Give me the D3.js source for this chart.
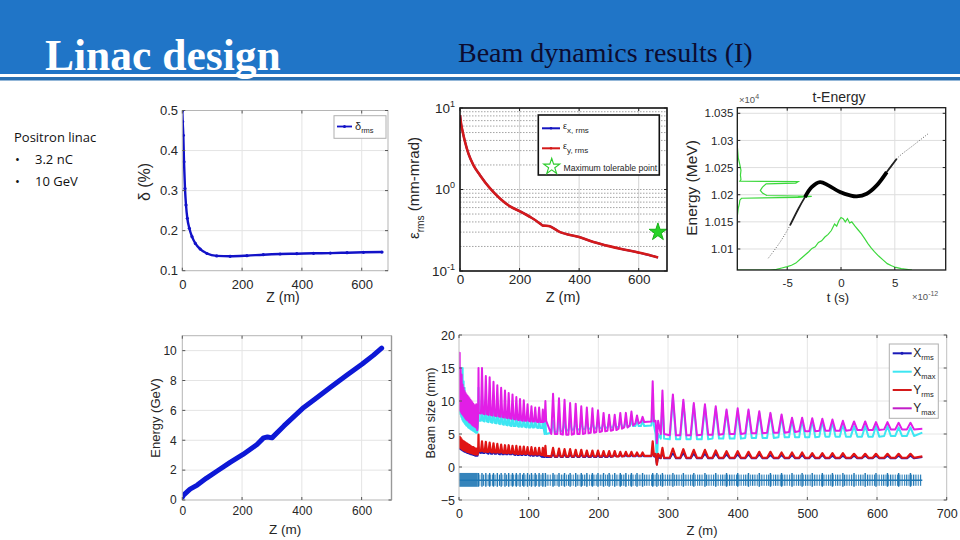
<!DOCTYPE html>
<html><head><meta charset="utf-8">
<script src="https://cdn.jsdelivr.net/npm/d3@7"></script>
<style>html,body{margin:0;padding:0;background:#fff;}svg{display:block;}</style>
</head><body>
<svg id="chart" width="960" height="540"></svg>
<script>
// ================= DATA =================
const titleLeft = "Linac design";
const titleRight = "Beam dynamics results (I)";
const notesHead = "Positron linac";
const notesItems = ["3.2 nC", "10 GeV"];

// Panel 1: energy spread vs Z
const deltaZ = [0,1.3,3.4,5.7,9,12.4,16.8,23.5,32.5,43.6,60,82.7,115,160,216,271,327,383,439,495,551,606,668];
const deltaV = [0.499,0.472,0.438,0.372,0.305,0.264,0.231,0.206,0.185,0.168,0.154,0.143,0.137,0.136,0.1375,0.140,0.1417,0.1425,0.1434,0.144,0.145,0.146,0.1466];
const p1XTicks = [0,200,400,600];
const p1YTicks = [0.1,0.2,0.3,0.4,0.5];

// Panel 2: emittance vs Z (log)
const emitZ = [0,3.4,9,16.8,28,45,67,101,134,168,201,240,269,279,297,336,400,448,500,549,600,640,665];
const emitX = [8.2,6.5,5.1,3.85,2.77,1.99,1.5,1.03,0.775,0.62,0.54,0.45,0.382,0.36,0.357,0.30,0.261,0.227,0.202,0.184,0.168,0.155,0.146];
const emitY = [8.2,6.5,5.1,3.85,2.77,1.99,1.5,1.03,0.775,0.62,0.54,0.45,0.382,0.36,0.357,0.30,0.261,0.227,0.202,0.184,0.168,0.155,0.146];
const maxTolZ = [664.5];
const maxTolV = [0.30];
const p2XTicks = [0,200,400,600];
const p2YTicks = [0.1,1,10];
const p2YMinor = [0.2,0.3,0.4,0.5,0.6,0.7,0.8,0.9,1,2,3,4,5,6,7,8,9];

// Panel 3: t-Energy phase space (t in 1e-12 s, E in 1e4 MeV)
const teT = [-6.76,-5.67,-4.74,-3.96,-3.35,-2.73,-1.95,-1.18,-0.09,0.84,1.46,2.39,3.32,4.25,5.18,6.72,8.11];
const teE = [1.0083,1.01125,1.01434,1.01742,1.01956,1.0214,1.02233,1.02172,1.02048,1.01987,1.01969,1.02018,1.02172,1.02417,1.02664,1.0291,1.03125];
const tHistT = [-9.64,-6.6,-6.0,-5.5,-5.0,-4.6,-4.2,-3.8,-3.4,-3.0,-2.7,-2.4,-2.1,-1.8,-1.5,-1.2,-0.9,-0.6,-0.4,-0.2,0,0.2,0.4,0.6,0.8,1.0,1.3,1.6,1.9,2.2,2.5,2.8,3.1,3.5,3.9,4.3,4.7,5.1,5.6,6.1,6.6];
const tHistE = [1.00613,1.00613,1.00626,1.0065,1.00674,1.007,1.0074,1.0081,1.0088,1.0095,1.0101,1.0104,1.0112,1.0115,1.0122,1.0127,1.0134,1.0146,1.0142,1.0152,1.0158,1.0156,1.0150,1.0156,1.0148,1.0150,1.0142,1.0135,1.0128,1.0119,1.0110,1.0102,1.0095,1.0087,1.0080,1.0073,1.0069,1.0066,1.0064,1.00626,1.00613];
const eHistE = [1.0360,1.0290,1.0268,1.0255,1.0245,1.0236,1.0228,1.0225,1.02242,1.02215,1.0220,1.0214,1.0208,1.0203,1.01985,1.0197,1.0195,1.01935,1.0190,1.0183,1.0175,1.0160,1.0061];
const eHistT = [-9.64,-9.64,-9.55,-9.4,-9.3,-9.35,-9.3,-9.4,-3.98,-4.2,-6.96,-7.3,-7.5,-7.3,-6.9,-2.72,-4.0,-9.25,-9.4,-9.45,-9.55,-9.64,-9.64];
const p3XTicks = [-5,0,5];
const p3YTicks = [1.01,1.015,1.02,1.025,1.03,1.035];

// Panel 4: energy vs Z
const enZ = [0,5,26,50,80,118,160,203,250,272,285,300,340,402,450,496,550,602,640,667];
const enV = [0.18,0.35,0.73,1.0,1.45,1.96,2.52,3.05,3.72,4.16,4.22,4.16,4.96,6.12,6.85,7.55,8.35,9.1,9.7,10.17];
const p4XTicks = [0,200,400,600];
const p4YTicks = [0,2,4,6,8,10];

// Panel 5: beam size vs Z (spike positions = quadrupoles)
const quadZ = [1,2.4,3.8,5.2,6.6,8,9.4,10.8,12.2,13.6,15,16.4,17.8,19.2,20.6,22,23.4,24.8,
  26.3,
  28,33,38.5,44,49.5,55,60.5,66,71.3,76.8,82.3,87.6,93,98.4,104,109.4,115,120.3,
  124,135,143.5,151.5,159.5,167.5,175.5,183.5,191.5,199.5,207.5,215.5,223.5,231.5,239.5,247.5,255.5,263.5,
  278,284,
  292,307,322,337,353,368.5,384,400,415.5,431,447,463,478,492.5,507,521.5,536,551,567,583,598.5,615,631,648];
const zEnd = 665;
const ymaxPeak = [17.3,15,14,12.5,12,11.5,11.2,11.0,10.8,10.6,10.4,10.2,10,9.8,9.6,9.4,9.2,9.5,
  5.6,
  15,15,13.8,13.6,12.9,12.4,12.0,11.6,11.2,11.0,10.6,10.3,10.1,9.5,9.2,9.0,9.0,8.7,
  10,11.1,10.4,10.2,9.7,9.6,9.2,9.0,8.9,8.6,8.2,7.9,7.9,8.2,8.2,8.4,7.8,7.6,
  13.0,3.6,
  11.6,11.0,10.2,9.7,9.5,9.2,8.7,8.9,8.7,8.45,8.2,7.95,7.45,7.45,7.4,7.3,7.2,7.0,6.9,6.9,6.8,6.8,6.7,6.7];
const ymaxBase = [8.7,8.5,8.2,8,7.8,7.6,7.4,7.2,7.1,7.0,6.8,6.7,6.6,6.4,6.3,6.2,6.1,6.0,
  6.0,
  8.2,8.1,8.0,7.9,7.8,7.7,7.6,7.5,7.4,7.3,7.2,7.1,7.0,7.0,6.9,6.9,6.8,6.8,
  7.0,5.0,5.0,4.9,4.9,5.0,5.0,5.1,5.2,5.3,5.4,5.5,5.6,5.8,6.0,6.3,6.6,6.8,
  6.9,7.0,
  5.0,4.8,4.8,4.8,4.9,4.9,5.0,5.0,5.1,5.1,5.2,5.2,5.3,5.4,5.4,5.5,5.5,5.5,5.6,5.6,5.6,5.7,5.7,5.7];
const xmaxPeak = [9.5,12,14,15,13,12,11,10.5,10,9.5,9.2,9,8.7,8.4,8.2,8,7.8,7.5,
  5.2,
  12,11,10,9.8,9.5,9.2,9,8.8,8.6,8.4,8.2,8,7.9,7.8,7.6,7.5,7.4,7.3,
  7.2,7.0,6.9,6.9,6.8,6.8,6.8,6.8,6.8,6.8,6.8,6.9,6.9,7.0,7.0,7.0,7.0,7.0,
  9.0,0.6,
  10.0,10.5,9.8,9.4,9.2,8.9,8.5,8.5,8.5,8.2,8.0,7.7,7.2,7.2,7.1,7.0,6.8,6.5,6.2,6.2,6.2,6.2,6.0,6.0];
const xmaxBase = [8.5,8.0,7.6,7.2,6.9,6.7,6.5,6.3,6.2,6.0,5.9,5.8,5.7,5.6,5.5,5.4,5.3,5.2,
  5.8,
  7.0,7.0,6.9,6.8,6.7,6.6,6.5,6.4,6.3,6.2,6.2,6.1,6.1,6.0,6.0,6.0,5.9,5.9,
  5.0,5.2,5.4,5.5,5.6,5.7,5.7,5.8,5.8,5.9,5.9,6.0,6.0,6.1,6.1,6.2,6.2,6.2,
  6.3,5.0,
  4.3,4.2,4.2,4.2,4.2,4.3,4.3,4.3,4.4,4.4,4.4,4.5,4.5,4.5,4.5,4.6,4.6,4.6,4.6,4.6,4.6,4.7,4.7,4.7];
const yrmsPeak = [4.6,4.4,4.2,4.0,3.9,3.8,3.7,3.6,3.5,3.4,3.3,3.2,3.1,3.0,3.0,2.9,2.8,2.8,
  1.9,
  4.9,3.9,3.8,3.7,3.6,3.5,3.4,3.3,3.3,3.2,3.2,3.1,3.1,3.0,3.0,2.9,2.9,2.9,
  3.2,2.9,2.8,2.7,2.7,2.6,2.6,2.5,2.5,2.5,2.4,2.4,2.4,2.3,2.3,2.3,2.2,2.2,
  3.9,0.35,
  2.9,2.8,2.7,2.6,2.6,2.5,2.4,2.4,2.3,2.3,2.3,2.2,2.2,2.2,2.1,2.1,2.1,2.1,2.0,2.0,2.0,2.0,2.0,2.0];
const yrmsBase = [3.0,2.9,2.8,2.7,2.6,2.5,2.5,2.4,2.3,2.3,2.2,2.2,2.1,2.1,2.0,2.0,1.9,1.9,
  1.9,
  2.4,2.4,2.3,2.3,2.2,2.2,2.2,2.1,2.1,2.1,2.0,2.0,2.0,2.0,1.9,1.9,1.9,1.8,
  1.7,1.6,1.6,1.6,1.6,1.6,1.6,1.6,1.6,1.6,1.6,1.6,1.6,1.6,1.7,1.7,1.7,1.7,
  1.7,2.0,
  1.4,1.4,1.4,1.4,1.4,1.4,1.4,1.4,1.4,1.4,1.4,1.4,1.4,1.4,1.4,1.4,1.4,1.4,1.4,1.4,1.4,1.4,1.4,1.4];
const xrmsPeak = [3.6,3.4,3.3,3.2,3.1,3.0,2.9,2.8,2.8,2.7,2.6,2.6,2.5,2.5,2.4,2.4,2.3,2.3,
  1.7,
  3.0,2.6,2.5,2.5,2.4,2.4,2.3,2.3,2.3,2.2,2.2,2.2,2.1,2.1,2.1,2.0,2.0,2.0,
  2.2,2.0,2.0,1.9,1.9,1.9,1.9,1.8,1.8,1.8,1.8,1.8,1.8,1.8,1.8,1.8,1.8,1.8,
  2.6,0.35,
  2.2,2.1,2.1,2.0,2.0,2.0,1.9,1.9,1.9,1.9,1.8,1.8,1.8,1.8,1.8,1.8,1.7,1.7,1.7,1.7,1.7,1.7,1.7,1.7];
const xrmsBase = [2.8,2.7,2.6,2.5,2.4,2.3,2.3,2.2,2.1,2.1,2.0,2.0,1.9,1.9,1.8,1.8,1.7,1.7,
  1.7,
  2.2,2.1,2.1,2.0,2.0,2.0,1.9,1.9,1.9,1.9,1.8,1.8,1.8,1.8,1.7,1.7,1.7,1.5,
  1.5,1.5,1.5,1.5,1.5,1.5,1.5,1.5,1.5,1.5,1.5,1.5,1.6,1.6,1.6,1.6,1.6,1.6,
  1.6,1.5,
  1.3,1.3,1.3,1.3,1.3,1.3,1.3,1.3,1.3,1.3,1.3,1.3,1.3,1.3,1.3,1.3,1.3,1.3,1.3,1.3,1.3,1.3,1.3,1.3];
const seriesStart = {xrms: 2.8, xmax: 8.5, yrms: 3.0, ymax: 9.0};
const seriesEnd = {xrms: 1.5, xmax: 5.2, yrms: 1.6, ymax: 5.8};
const latticeDense = [0, 27];
const latticeBand = [-0.9, -3.0];
const latticeHatch = [-1.15, -2.85];
const latticeAxis = -2;
const p5XTicks = [0,100,200,300,400,500,600,700];
const p5YTicks = [-5,0,5,10,15,20];

// ================= RENDER =================
const FONT = "'Liberation Sans', Arial, Helvetica, sans-serif";
const svg = d3.select('#chart');
const defs = svg.append('defs');
const hatch = defs.append('pattern').attr('id','hatch').attr('width',2.3).attr('height',4).attr('patternUnits','userSpaceOnUse');
hatch.append('rect').attr('width',1.1).attr('height',4).attr('fill','#1f77b4');

// header
svg.append('rect').attr('x',0).attr('y',0).attr('width',960).attr('height',74).attr('fill','#2075c7');
svg.append('rect').attr('x',0).attr('y',77).attr('width',960).attr('height',3.5).attr('fill','#2a70b2');
svg.append('text').attr('x',45).attr('y',70).attr('font-family',"'Liberation Serif','Times New Roman',serif")
  .attr('font-size',43.5).attr('font-weight','bold').attr('fill','#fff').text(titleLeft);
svg.append('text').attr('x',458).attr('y',62).attr('font-family',"'Liberation Serif','Times New Roman',serif")
  .attr('font-size',28).attr('fill','#0c0c30').text(titleRight);

// notes
const NF = "'Open Sans','Noto Sans',sans-serif";
svg.append('text').attr('x',14).attr('y',142).attr('font-family',NF).attr('font-size',13).attr('fill','#111').text(notesHead);
notesItems.forEach((s,i)=>{
  svg.append('text').attr('x',15).attr('y',164+22*i).attr('font-family',NF).attr('font-size',13).attr('fill','#111').text('•');
  svg.append('text').attr('x',35).attr('y',164+22*i).attr('font-family',NF).attr('font-size',13).attr('fill','#111').text(s);
});

let clipN = 0;
function panel(o){
  const g = svg.append('g');
  const [L,R] = o.x.range();
  const [B,T] = o.y.range();
  const id = 'clip'+(clipN++);
  defs.append('clipPath').attr('id',id).append('rect').attr('x',L).attr('y',T).attr('width',R-L).attr('height',B-T);
  g.append('rect').attr('x',L).attr('y',T).attr('width',R-L).attr('height',B-T).attr('fill','#fff');
  const gg = g.append('g');
  gg.selectAll('line.vx').data(o.xgrid).join('line').attr('class','vx')
    .attr('x1',d=>o.x(d)).attr('x2',d=>o.x(d)).attr('y1',T).attr('y2',B).attr('stroke',o.gridColor).attr('stroke-width',1);
  gg.selectAll('line.hy').data(o.ygrid).join('line').attr('class','hy')
    .attr('x1',L).attr('x2',R).attr('y1',d=>o.y(d)).attr('y2',d=>o.y(d)).attr('stroke',o.gridColor).attr('stroke-width',1);
  if (o.yminor) gg.selectAll('line.hm').data(o.yminor).join('line').attr('class','hm')
    .attr('x1',L).attr('x2',R).attr('y1',d=>o.y(d)).attr('y2',d=>o.y(d)).attr('stroke','#9a9a9a').attr('stroke-width',0.9).attr('stroke-dasharray','1.5,1.5');
  const dg = g.append('g').attr('clip-path',`url(#${id})`);
  o.draw(dg);
  g.append('rect').attr('x',L).attr('y',T).attr('width',R-L).attr('height',B-T).attr('fill','none')
    .attr('stroke',o.frame).attr('stroke-width',o.frameW);
  const tc = o.tickColor;
  const tk = g.append('g').attr('stroke',tc).attr('stroke-width',1);
  o.xticks.forEach(d=>{
    tk.append('line').attr('x1',o.x(d)).attr('x2',o.x(d)).attr('y1',B).attr('y2',B-3);
    tk.append('line').attr('x1',o.x(d)).attr('x2',o.x(d)).attr('y1',T).attr('y2',T+3);
  });
  o.yticks.forEach(d=>{
    tk.append('line').attr('y1',o.y(d)).attr('y2',o.y(d)).attr('x1',L).attr('x2',L+3);
    tk.append('line').attr('y1',o.y(d)).attr('y2',o.y(d)).attr('x1',R).attr('x2',R-3);
  });
  const gx = g.append('g').attr('transform',`translate(0,${B})`)
    .call(d3.axisBottom(o.x).tickValues(o.xticks).tickSize(0).tickPadding(o.xpad).tickFormat(o.xfmt));
  gx.select('.domain').remove();
  gx.attr('font-family',FONT).attr('font-size',o.fs);
  gx.selectAll('text').attr('fill','#262626');
  const gy = g.append('g').attr('transform',`translate(${L},0)`)
    .call(d3.axisLeft(o.y).tickValues(o.yticks).tickSize(0).tickPadding(o.ypad).tickFormat(o.yfmt));
  gy.select('.domain').remove();
  gy.attr('font-family',FONT).attr('font-size',o.fs);
  gy.selectAll('text').attr('fill','#262626');
  return {g,gx,gy};
}
function label(x,y,fs,parts,rot){
  const t = svg.append('text').attr('font-family',FONT).attr('font-size',fs).attr('fill','#262626')
    .attr('text-anchor','middle').attr('transform',`translate(${x},${y})`+(rot?' rotate(-90)':''));
  let shift = 0;
  parts.forEach(p=>{
    const s = t.append('tspan').text(p[0]);
    const want = p[1]==='sub' ? fs*0.3 : (p[1]==='sup' ? -fs*0.45 : 0);
    if (want !== shift) { s.attr('dy', want - shift); shift = want; }
    if (p[1]) s.attr('font-size', fs*0.68);
  });
  return t;
}

// ---------- Panel 1 ----------
{
  const x = d3.scaleLinear([0,688],[182.3,388]);
  const y = d3.scaleLinear([0.1,0.5],[270.7,110.5]);
  const pts = deltaZ.map((z,i)=>[z,deltaV[i]]);
  panel({x,y,xticks:p1XTicks,yticks:p1YTicks,xgrid:p1XTicks.slice(1),ygrid:p1YTicks.slice(1,-1),
    gridColor:'#e4e4e4',frame:'#b5b5b5',frameW:1,tickColor:'#555',fs:13,xpad:8.6,ypad:4.3,
    xfmt:d3.format('d'),yfmt:d=>d.toFixed(1),
    draw:g=>{
      g.append('path').datum(pts).attr('d',d3.line().x(d=>x(d[0])).y(d=>y(d[1])).curve(d3.curveMonotoneX))
        .attr('fill','none').attr('stroke','#1212c8').attr('stroke-width',2.4);
      g.selectAll('circle').data(pts).join('circle').attr('cx',d=>x(d[0])).attr('cy',d=>y(d[1])).attr('r',1.6).attr('fill','#1212c8');
    }});
  label(283,302,14,[['Z (m)']]);
  label(150,182,16,[['δ (%)']],true);
  svg.append('rect').attr('x',334).attr('y',115.7).attr('width',52).attr('height',22.6).attr('fill','#fff').attr('stroke','#b0b0b0');
  svg.append('line').attr('x1',337).attr('x2',352).attr('y1',126.5).attr('y2',126.5).attr('stroke','#1212c8').attr('stroke-width',1.8);
  svg.append('circle').attr('cx',344.5).attr('cy',126.5).attr('r',1.5).attr('fill','#1212c8');
  const t = svg.append('text').attr('x',355).attr('y',129.5).attr('font-family',FONT).attr('font-size',11).attr('fill','#262626');
  t.append('tspan').text('δ'); t.append('tspan').attr('dy',3).attr('font-size',7.5).text('rms');
}

// ---------- Panel 2 ----------
{
  const x = d3.scaleLinear([0,695],[460,667]);
  const y = d3.scaleLog([0.1,10],[271,108]);
  const lx = emitZ.map((z,i)=>[z,emitX[i]]);
  const ly = emitZ.map((z,i)=>[z,emitY[i]]);
  const line = d3.line().x(d=>x(d[0])).y(d=>y(d[1])).curve(d3.curveMonotoneX);
  const p = panel({x,y,xticks:p2XTicks,yticks:p2YTicks,xgrid:p2XTicks.slice(1),ygrid:[],yminor:p2YMinor,
    gridColor:'#d2d2d2',frame:'#111',frameW:1.6,tickColor:'#222',fs:13.5,xpad:3,ypad:5,
    xfmt:d3.format('d'),yfmt:d=>'',
    draw:g=>{
      g.append('path').datum(lx).attr('d',line).attr('fill','none').attr('stroke','#1515c0').attr('stroke-width',2);
      g.append('path').datum(ly).attr('d',line).attr('fill','none').attr('stroke','#d41a1a').attr('stroke-width',2.6);
      g.selectAll('path.star').data(maxTolZ.map((z,i)=>[z,maxTolV[i]])).join('path').attr('class','star')
        .attr('transform',d=>`translate(${x(d[0])},${y(d[1])})`).attr('d',d3.symbol(d3.symbolStar,95))
        .attr('fill','#27d327').attr('stroke','#18b018').attr('stroke-width',1);
    }});
  p.gy.selectAll('text').each(function(d){
    const t = d3.select(this); const e = Math.round(Math.log10(d));
    t.append('tspan').text('10');
    t.append('tspan').attr('dy',-6).attr('font-size',9).text(e);
  });
  label(563,302,14.5,[['Z (m)']]);
  label(419,188,15,[['ε'],['rms','sub'],[' (mm-mrad)']],true);
  svg.append('rect').attr('x',538.3).attr('y',115).attr('width',121).attr('height',60).attr('fill','#fff').attr('stroke','#111').attr('stroke-width',1.6);
  const items = [['x, rms','#1515c0',128.3],['y, rms','#d41a1a',148.3]];
  items.forEach(it=>{
    svg.append('line').attr('x1',542).attr('x2',560).attr('y1',it[2]).attr('y2',it[2]).attr('stroke',it[1]).attr('stroke-width',2);
    svg.append('circle').attr('cx',551).attr('cy',it[2]).attr('r',1.3).attr('fill',it[1]);
    const t = svg.append('text').attr('x',563).attr('y',it[2]+1).attr('font-family',FONT).attr('font-size',9).attr('fill','#262626');
    t.append('tspan').text('ε'); t.append('tspan').attr('dy',3.5).attr('font-size',8).text(it[0]);
  });
  svg.append('path').attr('transform','translate(551.7,166.7)').attr('d',d3.symbol(d3.symbolStar,80))
    .attr('fill','none').attr('stroke','#2ccc2c').attr('stroke-width',1.1);
  svg.append('text').attr('x',563.5).attr('y',170.5).attr('font-family',FONT).attr('font-size',8.6).attr('fill','#262626').text('Maximum tolerable point');
}

// ---------- Panel 3 ----------
{
  const x = d3.scaleLinear([-9.64,9.73],[737.3,945.7]);
  const y = d3.scaleLinear([1.00613,1.03603],[270,107.7]);
  const pts = teT.map((t,i)=>[t,teE[i]]);
  const line = d3.line().x(d=>x(d[0])).y(d=>y(d[1])).curve(d3.curveCatmullRom);
  panel({x,y,xticks:p3XTicks,yticks:p3YTicks,xgrid:p3XTicks,ygrid:p3YTicks,
    gridColor:'#dedede',frame:'#1a1a1a',frameW:1.3,tickColor:'#222',fs:11.5,xpad:9,ypad:4,
    xfmt:d=>String(d),yfmt:d=>String(d),
    draw:g=>{
      g.append('path').datum(tHistT.map((t,i)=>[t,tHistE[i]])).attr('d',d3.line().x(d=>x(d[0])).y(d=>y(d[1])))
        .attr('fill','none').attr('stroke','#3cd83c').attr('stroke-width',1.2);
      g.append('path').datum(eHistE.map((e,i)=>[eHistT[i],e])).attr('d',d3.line().x(d=>x(d[0])).y(d=>y(d[1])))
        .attr('fill','none').attr('stroke','#3cd83c').attr('stroke-width',1.2);
      g.append('path').datum(pts).attr('d',line).attr('fill','none').attr('stroke','#666').attr('stroke-width',1).attr('stroke-dasharray','1,1.6');
      g.append('path').datum(pts.filter(d=>d[0]>-5&&d[0]<6)).attr('d',line).attr('fill','none').attr('stroke','#222').attr('stroke-width',1.8);
      g.append('path').datum(pts.filter(d=>d[0]>-3.6&&d[0]<4.6)).attr('d',line).attr('fill','none').attr('stroke','#000').attr('stroke-width',3.8);
    }});
  label(839,102,14,[['t-Energy']]);
  label(838,302,13,[['t (s)']]);
  label(697,188,15.5,[['Energy (MeV)']],true);
  const a = svg.append('text').attr('x',739).attr('y',103).attr('font-family',FONT).attr('font-size',9.5).attr('fill','#555');
  a.append('tspan').text('×10'); a.append('tspan').attr('dy',-4).attr('font-size',7).text('4');
  const b = svg.append('text').attr('x',912).attr('y',300).attr('font-family',FONT).attr('font-size',9.5).attr('fill','#555');
  b.append('tspan').text('×10'); b.append('tspan').attr('dy',-4).attr('font-size',7).text('-12');
}

// ---------- Panel 4 ----------
{
  const x = d3.scaleLinear([0,700],[182.3,391.5]);
  const y = d3.scaleLinear([0,11],[500,335.7]);
  const pts = enZ.map((z,i)=>[z,enV[i]]);
  panel({x,y,xticks:p4XTicks,yticks:p4YTicks,xgrid:p4XTicks.slice(1),ygrid:p4YTicks.slice(1),
    gridColor:'#e4e4e4',frame:'#b5b5b5',frameW:1,tickColor:'#555',fs:12,xpad:6.6,ypad:5.5,
    xfmt:d3.format('d'),yfmt:d3.format('d'),
    draw:g=>{
      g.append('path').datum(pts).attr('d',d3.line().x(d=>x(d[0])).y(d=>y(d[1])))
        .attr('fill','none').attr('stroke','#0d18d6').attr('stroke-width',5).attr('stroke-linejoin','round').attr('stroke-linecap','round');
    }});
  svg.append('line').attr('x1',391.5).attr('x2',391.5).attr('y1',335.7).attr('y2',500).attr('stroke','#999').attr('stroke-width',1.4);
  label(285,534,13.5,[['Z (m)']]);
  label(160,418,13,[['Energy (GeV)']],true);
}

// ---------- Panel 5 ----------
{
  const x = d3.scaleLinear([0,700],[459,946.7]);
  const y = d3.scaleLinear([-5,20],[500,335]);
  function spikes(startV, peaks, bases, endV){
    const pts = [[0,startV]];
    const n = quadZ.length;
    for (let i=0;i<n;i++){
      const z = quadZ[i];
      const gp = i>0 ? z-quadZ[i-1] : z;
      const gn = i<n-1 ? quadZ[i+1]-z : zEnd-z;
      const hw = 0.3*Math.min(gp,gn);
      pts.push([z-hw,bases[i]],[z,peaks[i]],[z+hw,bases[i]]);
    }
    pts.push([zEnd,endV]);
    return pts;
  }
  const line = d3.line().x(d=>x(d[0])).y(d=>y(d[1]));
  const series = [
    ['xrms','#1a1ab8',xrmsPeak,xrmsBase,1.8],
    ['xmax','#3ee6f2',xmaxPeak,xmaxBase,2],
    ['yrms','#e01414',yrmsPeak,yrmsBase,2.2],
    ['ymax','#e21ee6',ymaxPeak,ymaxBase,2]
  ];
  panel({x,y,xticks:p5XTicks,yticks:p5YTicks,xgrid:p5XTicks.slice(1,-1),ygrid:p5YTicks.slice(1,-1),
    gridColor:'#e6e6e6',frame:'#c0c0c0',frameW:1,tickColor:'#555',fs:12.5,xpad:8.8,ypad:4,
    xfmt:d3.format('d'),yfmt:d3.format('d'),
    draw:g=>{
      const lat = g.append('g');
      lat.append('rect').attr('x',x(latticeDense[0])).attr('width',x(latticeDense[1])-x(latticeDense[0]))
        .attr('y',y(latticeBand[0])).attr('height',y(latticeBand[1])-y(latticeBand[0])).attr('fill','#1f77b4').attr('opacity',0.9);
      const qz = quadZ.filter(z=>z>latticeDense[1]);
      const segs = qz.map((z,i)=>[z, i<qz.length-1 ? qz[i+1] : zEnd]);
      lat.selectAll('rect.h').data(segs).join('rect').attr('class','h')
        .attr('x',d=>x(d[0]+0.8)).attr('width',d=>Math.max(0,x(d[1]-0.8)-x(d[0]+0.8)))
        .attr('y',y(latticeHatch[0])).attr('height',y(latticeHatch[1])-y(latticeHatch[0])).attr('fill','url(#hatch)');
      lat.append('line').attr('x1',x(0)).attr('x2',x(zEnd)).attr('y1',y(latticeAxis)).attr('y2',y(latticeAxis))
        .attr('stroke','#1f77b4').attr('stroke-width',1.6);
      lat.selectAll('line.q').data(qz).join('line').attr('class','q')
        .attr('x1',d=>x(d)).attr('x2',d=>x(d)).attr('y1',y(latticeBand[0])).attr('y2',y(latticeBand[1]))
        .attr('stroke','#1f77b4').attr('stroke-width',1.4);
      series.forEach(s=>{
        g.append('path').datum(spikes(seriesStart[s[0]],s[2],s[3],seriesEnd[s[0]])).attr('d',line)
          .attr('fill','none').attr('stroke',s[1]).attr('stroke-width',s[4]).attr('stroke-linejoin','round');
      });
    }});
  label(702,535,13,[['Z (m)']]);
  label(435,413,12.5,[['Beam size (mm)']],true);
  svg.append('rect').attr('x',889.3).attr('y',344).attr('width',49).attr('height',74.3).attr('fill','#fff').attr('stroke','#b0b0b0');
  const leg = [['X','rms','#1a1ab8',353.3],['X','max','#3ee6f2',371.7],['Y','rms','#d41a1a',390],['Y','max','#c21ec8',408.3]];
  leg.forEach((l,i)=>{
    svg.append('line').attr('x1',892.7).attr('x2',911.7).attr('y1',l[3]).attr('y2',l[3]).attr('stroke',l[2]).attr('stroke-width',2);
    if (i===0) svg.append('circle').attr('cx',902).attr('cy',l[3]).attr('r',1.5).attr('fill',l[2]);
    const t = svg.append('text').attr('x',913.3).attr('y',l[3]+4).attr('font-family',FONT).attr('font-size',12).attr('fill','#262626');
    t.append('tspan').text(l[0]); t.append('tspan').attr('dy',3).attr('font-size',7.5).text(l[1]);
  });
}
</script>
</body></html>
